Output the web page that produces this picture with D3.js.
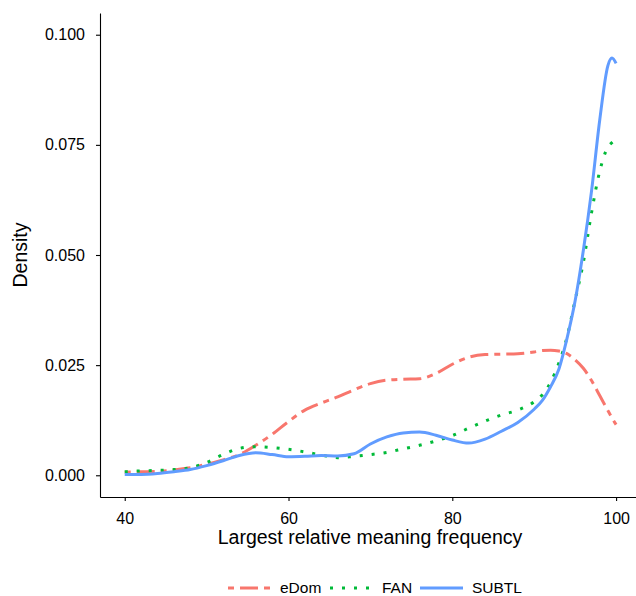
<!DOCTYPE html>
<html>
<head>
<meta charset="utf-8">
<script src="https://cdn.jsdelivr.net/npm/d3@7"></script>
<style>
  body { margin: 0; background: #fff; }
  text { font-family: "Liberation Sans", Arial, sans-serif; fill: #000; }
</style>
</head>
<body>
<svg id="svgContainer" width="636" height="596"></svg>
<script>
const seriesNames = ["eDom", "FAN", "SUBTL"];
const seriesColors = ["#F8766D", "#00BA38", "#619CFF"];
const seriesDash = ["6,6,18,6", "3,9", null];

const xGrid = [40, 42, 44, 46, 48, 50, 52, 54, 56, 58, 60, 62, 64, 66, 68, 70, 72, 74, 76, 78,
  80, 82, 84, 86, 88, 90, 91, 92, 93, 94, 95, 96, 97, 98, 99, 99.5, 100];

const eDom = [0.0007, 0.0008, 0.0009, 0.0012, 0.0017, 0.0025, 0.0035, 0.0047, 0.0068, 0.0093,
  0.0122, 0.0148, 0.0164, 0.0178, 0.0194, 0.0208, 0.0216, 0.0218, 0.0219, 0.0231,
  0.0252, 0.0268, 0.0274, 0.0275, 0.0276, 0.0280, 0.0283, 0.0284, 0.0282, 0.0276,
  0.0262, 0.0243, 0.0215, 0.0181, 0.0147, 0.0130, 0.0115];

const fan = [0.0008, 0.0010, 0.0011, 0.0013, 0.0017, 0.0029, 0.0047, 0.0061, 0.0065, 0.0063,
  0.0059, 0.0053, 0.0046, 0.0040, 0.0043, 0.0047, 0.0052, 0.0060, 0.0068, 0.0078,
  0.0090, 0.0107, 0.0123, 0.0137, 0.0148, 0.0167, 0.0183, 0.0211, 0.0254, 0.0313,
  0.0398, 0.0483, 0.0596, 0.0690, 0.0745, 0.0755, 0.0762];

const subtl = [0.0002, 0.0002, 0.0004, 0.0008, 0.0013, 0.0022, 0.0033, 0.0045, 0.0051, 0.0047,
  0.0042, 0.0043, 0.0045, 0.0044, 0.0049, 0.0071, 0.0087, 0.0096, 0.0098, 0.0091,
  0.0080, 0.0073, 0.0082, 0.0100, 0.0120, 0.0150, 0.0170, 0.0201, 0.0240, 0.0310,
  0.0396, 0.0510, 0.0645, 0.0806, 0.0930, 0.0947, 0.0935];

const xTicks = [40, 60, 80, 100];
const yTicks = [0, 0.025, 0.05, 0.075, 0.1];

const svg = d3.select("#svgContainer");

const x = d3.scaleLinear().domain([36.98, 102.92]).range([100, 640]);
const y = d3.scaleLinear().domain([-0.00493, 0.10493]).range([497, 13]);

// axes
const gx = svg.append("g")
  .attr("transform", "translate(0,497)")
  .call(d3.axisBottom(x).tickValues(xTicks).tickSizeInner(4).tickSizeOuter(0).tickPadding(12));

const gy = svg.append("g")
  .attr("transform", "translate(100,0)")
  .call(d3.axisLeft(y).tickValues(yTicks).tickFormat(d3.format(".3f"))
    .tickSizeInner(4).tickSizeOuter(0).tickPadding(11));

[gx, gy].forEach(g => {
  g.select(".domain").attr("stroke", "#000").attr("stroke-width", 1.1);
  g.selectAll(".tick line").attr("stroke", "#000").attr("stroke-width", 1.1);
  g.selectAll(".tick text").attr("font-size", 16).attr("font-family", null).attr("fill", "#000");
});

svg.append("text")
  .attr("x", 370)
  .attr("y", 544)
  .attr("text-anchor", "middle")
  .attr("font-size", 19.5)
  .text("Largest relative meaning frequency");

svg.append("text")
  .attr("transform", "translate(27,255) rotate(-90)")
  .attr("text-anchor", "middle")
  .attr("font-size", 19.5)
  .text("Density");

// density lines
const line = d3.line()
  .x((d, i) => x(xGrid[i]))
  .y(d => y(d))
  .curve(d3.curveMonotoneX);

const allSeries = [eDom, fan, subtl];

allSeries.forEach((vals, k) => {
  svg.append("path")
    .datum(vals)
    .attr("fill", "none")
    .attr("stroke", seriesColors[k])
    .attr("stroke-width", 3)
    .attr("stroke-dasharray", seriesDash[k])
    .attr("d", line);
});

// legend
const legendX = [228, 330, 420];
const legend = svg.append("g");

seriesNames.forEach((name, k) => {
  legend.append("line")
    .attr("x1", legendX[k])
    .attr("x2", legendX[k] + 43)
    .attr("y1", 588)
    .attr("y2", 588)
    .attr("stroke", seriesColors[k])
    .attr("stroke-width", 3)
    .attr("stroke-dasharray", seriesDash[k]);
  legend.append("text")
    .attr("x", legendX[k] + 52)
    .attr("y", 593)
    .attr("font-size", 15.5)
    .text(name);
});
</script>
</body>
</html>
